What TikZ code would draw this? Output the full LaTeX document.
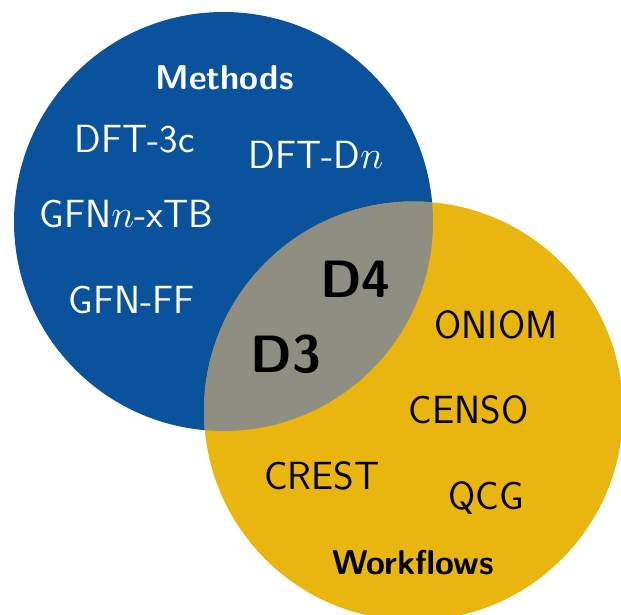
\RequirePackage{fix-cm}
\documentclass[tikz,border=0pt]{standalone}
\usepackage{fontspec}
\begin{document}
\begin{tikzpicture}[x=1pt,y=-1pt,
  lbl/.style={anchor=base,inner sep=0pt,font=\sffamily\fontsize{39.3}{43}\selectfont},
  ttl/.style={anchor=base,inner sep=0pt,font=\sffamily\bfseries\fontsize{34.4}{38}\selectfont},
  big/.style={anchor=base,inner sep=0pt,font=\sffamily\bfseries\fontsize{52.5}{58}\selectfont}]
\definecolor{mblue}{RGB}{10,82,155}
\definecolor{myellow}{RGB}{232,182,14}
\definecolor{mgray}{RGB}{142,142,130}
\useasboundingbox (0,0) rectangle (621,614);
\clip (0,0) rectangle (621,614);
\coordinate (c1) at (223.5,221.5);
\coordinate (c2) at (413.5,411);
\fill[mblue] (c1) circle (209.5);
\fill[myellow] (c2) circle (209.5);
\begin{scope}
  \clip (c1) circle (209.5);
  \fill[mgray] (c2) circle (209.5);
\end{scope}
\node[ttl,text=white] (methods) at (224.5,89) {Methods};
\node[lbl,text=white] (dft3c) at (134.5,152.5) {DFT-3c};
\node[lbl,text=white] (dftdn) at (316,168.3) {DFT-D$n$};
\node[lbl,text=white] (gfnxtb) at (126.5,227.7) {GFN$n$-xTB};
\node[lbl,text=white] (gfnff) at (131.5,313) {GFN-FF};
\node[big] (d4) at (355.5,297) {D4};
\node[big] (d3) at (286,372) {D3};
\node[lbl] (oniom) at (496,338.6) {ONIOM};
\node[lbl] (censo) at (468.5,423.8) {CENSO};
\node[lbl] (crest) at (321.7,489) {CREST};
\node[lbl] (qcg) at (486,509) {QCG};
\node[ttl] (workflows) at (413,574) {Workflows};
\end{tikzpicture}
\end{document}
